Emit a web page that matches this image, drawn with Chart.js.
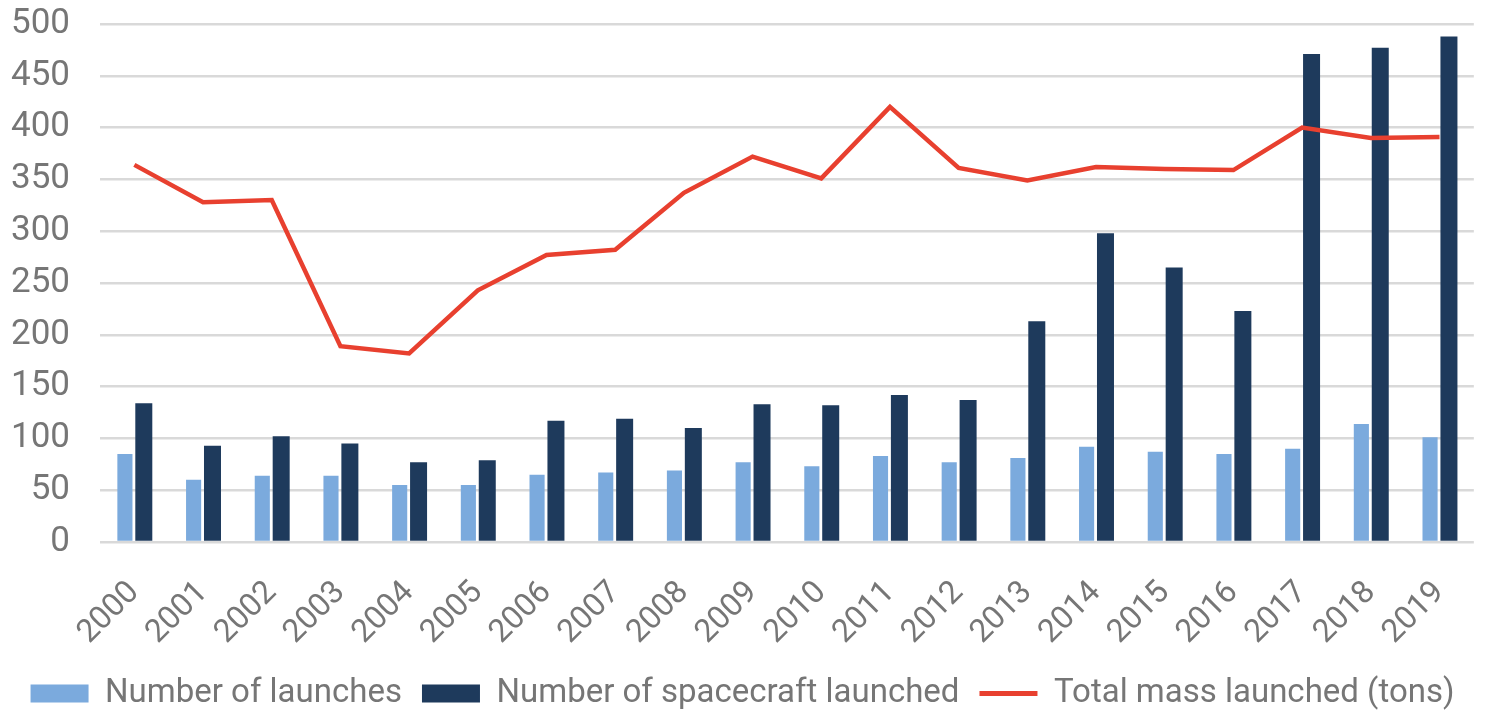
<!DOCTYPE html>
<html>
<head>
<meta charset="utf-8">
<script src="https://cdn.jsdelivr.net/npm/chart.js@4.4.1/dist/chart.umd.min.js"></script>
<style>
  html, body { margin: 0; padding: 0; background: #fff; }
  #wrap { width: 1491px; height: 711px; position: relative; }
</style>
</head>
<body>
<div id="wrap"><canvas id="grafico"></canvas></div>
<script>
const years = ["2000", "2001", "2002", "2003", "2004", "2005", "2006", "2007", "2008", "2009",
  "2010", "2011", "2012", "2013", "2014", "2015", "2016", "2017", "2018", "2019"];
const launches = [85, 60, 64, 64, 55, 55, 65, 67, 69, 77, 73, 83, 77, 81, 92, 87, 85, 90, 114, 101];
const spacecraft = [134, 93, 102, 95, 77, 79, 117, 119, 110, 133, 132, 142, 137, 213, 298, 265, 223, 471, 477, 488];
const massTons = [364, 328, 330, 189, 182, 243, 277, 282, 337, 372, 351, 420, 361, 349, 362, 360, 359, 400, 390, 391];

const GRIS = "#767676";
const FUENTE = "Roboto";

function leyendaPersonalizada(chart) {
  const items = Chart.defaults.plugins.legend.labels.generateLabels(chart);
  return items.map((it) => {
    if (it.datasetIndex === 2) {
      it.pointStyle = "line";
      it.lineWidth = 5;
      it.strokeStyle = "#E8402F";
    } else {
      it.pointStyle = "rect";
      it.lineWidth = 0;
    }
    return it;
  });
}

new Chart(document.getElementById("grafico"), {
  type: "bar",
  data: {
    labels: years,
    datasets: [
      {
        label: "Number of launches",
        data: launches,
        backgroundColor: "#7BAADD",
        barPercentage: 0.8,
        order: 1,
      },
      {
        label: "Number of spacecraft launched",
        data: spacecraft,
        backgroundColor: "#1E3A5C",
        barPercentage: 0.9,
        order: 1,
      },
      {
        type: "line",
        label: "Total mass launched (tons)",
        data: massTons,
        borderColor: "#E8402F",
        backgroundColor: "#E8402F",
        borderWidth: 4.5,
        pointRadius: 0,
        tension: 0,
        order: 0,
      },
    ],
  },
  options: {
    responsive: true,
    maintainAspectRatio: false,
    animation: false,
    categoryPercentage: 0.55,
    layout: { padding: { left: 8, right: 14, top: 0, bottom: 0 } },
    plugins: {
      tooltip: { enabled: false },
      legend: {
        position: "bottom",
        maxHeight: 54,
        labels: {
          usePointStyle: true,
          pointStyleWidth: 58,
          boxHeight: 18,
          padding: 20,
          color: GRIS,
          font: { family: FUENTE, size: 33, lineHeight: 1 },
          sort: (a, b) => a.datasetIndex - b.datasetIndex,
          generateLabels: leyendaPersonalizada,
        },
      },
    },
    scales: {
      x: {
        grid: { display: false },
        border: { display: false },
        afterFit: (scale) => {
          scale.height = 115;
        },
        ticks: {
          minRotation: 45,
          maxRotation: 45,
          color: GRIS,
          padding: 24,
          font: { family: FUENTE, size: 32 },
        },
      },
      y: {
        min: 0,
        max: 500,
        border: { display: false },
        grid: { color: "#D9D9D9", lineWidth: 2.5, tickLength: 27, tickColor: "rgba(0,0,0,0)" },
        ticks: {
          stepSize: 50,
          autoSkip: false,
          color: GRIS,
          padding: 3,
          font: { family: FUENTE, size: 35 },
        },
      },
    },
  },
});
</script>
</body>
</html>
